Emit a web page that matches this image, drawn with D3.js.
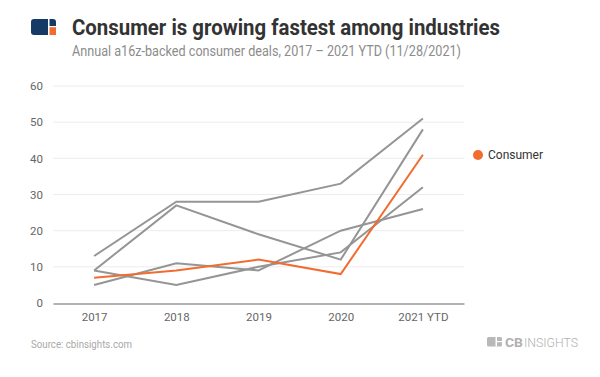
<!DOCTYPE html>
<html>
<head>
<meta charset="utf-8">
<script src="https://cdn.jsdelivr.net/npm/d3@7"></script>
<style>
  body { margin: 0; background: #fff; }
  svg { font-family: Roboto, "Noto Sans", sans-serif; }
</style>
</head>
<body>
<div id="chart"></div>
<script>
// chart data
var years = ["2017", "2018", "2019", "2020", "2021 YTD"];
var consumer = [7, 9, 12, 8, 41];
var otherA = [13, 28, 28, 33, 51];
var otherB = [9, 27, 19, 12, 48];
var otherC = [5, 11, 9, 20, 26];
var otherD = [9, 5, 10, 14, 32];
var yTicks = [0, 10, 20, 30, 40, 50, 60];

var W = 600, H = 377;
var svg = d3.select("#chart").append("svg")
  .attr("width", W).attr("height", H);

// scales
var x = d3.scalePoint().domain(years).range([53, 464]).padding(0.5);
var y = d3.scaleLinear().domain([0, 60]).range([303, 86]);

// header logo
var logo = svg.append("g").attr("transform", "translate(31,19)");
logo.append("rect").attr("width", 25).attr("height", 16).attr("rx", 3).attr("fill", "#163a66");
logo.append("rect").attr("x", 17.5).attr("y", 8).attr("width", 7.5).attr("height", 8).attr("fill", "#f26b2f");
logo.append("rect").attr("x", 17).attr("y", 0).attr("width", 1.5).attr("height", 16).attr("fill", "#fff");
logo.append("rect").attr("x", 17).attr("y", 7).attr("width", 8).attr("height", 1.2).attr("fill", "#fff");

// titles
svg.append("text")
  .attr("x", 72).attr("y", 34.5)
  .attr("font-size", 22).attr("font-weight", "bold")
  .attr("fill", "#333")
  .attr("textLength", 428).attr("lengthAdjust", "spacingAndGlyphs")
  .text("Consumer is growing fastest among industries");

svg.append("text")
  .attr("x", 72).attr("y", 55.5)
  .attr("font-size", 15)
  .attr("fill", "#8c8c8c")
  .attr("textLength", 389).attr("lengthAdjust", "spacingAndGlyphs")
  .text("Annual a16z-backed consumer deals, 2017 \u2013 2021 YTD (11/28/2021)");

// grid lines
svg.append("g").selectAll("line")
  .data(yTicks.slice(1))
  .enter().append("line")
  .attr("x1", 53).attr("x2", 464)
  .attr("y1", function(d) { return y(d); })
  .attr("y2", function(d) { return y(d); })
  .attr("stroke", "#ececec").attr("stroke-width", 1);

// y axis labels
var yAxis = svg.append("g")
  .attr("transform", "translate(53,0)")
  .call(d3.axisLeft(y).tickValues(yTicks).tickSize(0).tickPadding(10));
yAxis.select(".domain").remove();
yAxis.selectAll("text").attr("font-size", 11.5).attr("fill", "#666").attr("font-family", "Roboto");

// x axis
var xAxis = svg.append("g")
  .attr("transform", "translate(0,303.5)")
  .call(d3.axisBottom(x).tickSize(0).tickPadding(9));
xAxis.select(".domain").attr("stroke", "#666").attr("stroke-width", 1.2);
xAxis.selectAll("text").attr("font-size", 11.5).attr("fill", "#666").attr("font-family", "Roboto");

// lines
var line = d3.line()
  .x(function(d, i) { return x(years[i]); })
  .y(function(d) { return y(d); });

var grays = [otherA, otherB, otherC, otherD];
svg.append("g").selectAll("path")
  .data(grays)
  .enter().append("path")
  .attr("d", line)
  .attr("fill", "none")
  .attr("stroke", "#959595")
  .attr("stroke-width", 2);

svg.append("path")
  .attr("d", line(consumer))
  .attr("fill", "none")
  .attr("stroke", "#f26b2f")
  .attr("stroke-width", 2);

// legend
svg.append("circle").attr("cx", 478).attr("cy", 155).attr("r", 5).attr("fill", "#f26b2f");
svg.append("text")
  .attr("x", 488).attr("y", 159)
  .attr("font-size", 12).attr("fill", "#333")
  .text("Consumer");

// footer
svg.append("text")
  .attr("x", 31).attr("y", 347.5)
  .attr("font-size", 10.5).attr("fill", "#a8a8a8")
  .attr("textLength", 101).attr("lengthAdjust", "spacingAndGlyphs")
  .text("Source: cbinsights.com");

var brand = svg.append("g").attr("transform", "translate(487,337)");
brand.append("rect").attr("width", 15).attr("height", 9.5).attr("rx", 1.5).attr("fill", "#b8b8b8");
brand.append("rect").attr("x", 8.5).attr("y", 0).attr("width", 1.5).attr("height", 9.5).attr("fill", "#fff");
brand.append("rect").attr("x", 10).attr("y", 4).attr("width", 5).attr("height", 1.2).attr("fill", "#fff");
brand.append("text").attr("x", 18).attr("y", 9.5).attr("font-size", 12.5).attr("fill", "#b0b0b0")
  .attr("font-weight", "bold")
  .attr("textLength", 18).attr("lengthAdjust", "spacingAndGlyphs")
  .text("CB");
brand.append("text").attr("x", 37).attr("y", 9.5).attr("font-size", 12.5).attr("fill", "#b0b0b0")
  .attr("font-weight", "300")
  .attr("textLength", 54).attr("lengthAdjust", "spacingAndGlyphs")
  .text("INSIGHTS");
</script>
</body>
</html>
